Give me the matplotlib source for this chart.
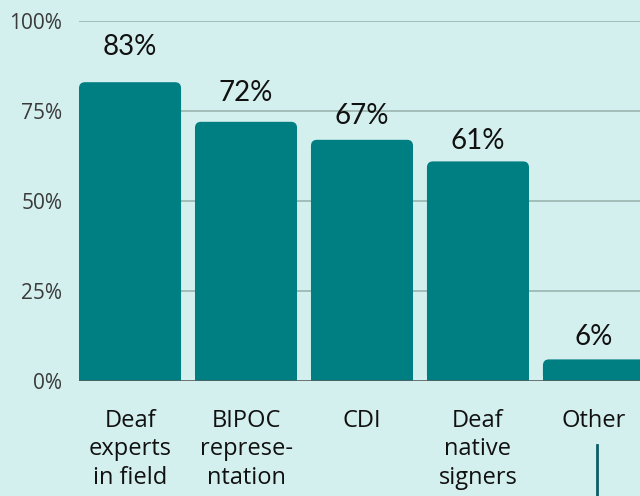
import matplotlib.pyplot as plt
from matplotlib.patches import FancyBboxPatch, Rectangle
from matplotlib.lines import Line2D

categories = ["Deaf\nexperts\nin field", "BIPOC\nreprese-\nntation", "CDI", "Deaf\nnative\nsigners", "Other"]
values = [83, 72, 67, 61, 6]
value_labels = ["83%", "72%", "67%", "61%", "6%"]
yticks = [0, 25, 50, 75, 100]
ytick_labels = ["0%", "25%", "50%", "75%", "100%"]

bg = "#d4f0ee"
bar_color = "#007f83"
label_gap = [22, 16, 11, 7, 9]  # pixels between bar top and its label

fig = plt.figure(figsize=(6.4, 4.96), dpi=100, facecolor=bg)
ax = fig.add_axes([79 / 640, 115 / 496, 561 / 640, 360 / 496])
ax.set_facecolor(bg)

width = 0.88
ax.set_xlim(-width / 2, 4.397)
ax.set_ylim(0, 100)

# gridlines
for t in yticks[1:]:
    ax.axhline(t, color="#9ab3ae", lw=1.2, zorder=0)
ax.axhline(0, color="#555f5e", lw=1.2, zorder=3)

# rounded-top bars
r = 0.052
aspect = (561 / (4.397 + width / 2)) / 3.6
bars = ax.bar(range(len(values)), values, width=width, color="none")
for b, v in zip(bars, values):
    x0 = b.get_x()
    ax.add_patch(FancyBboxPatch((x0, 0), width, v,
                                boxstyle=f"round,pad=0,rounding_size={r}",
                                mutation_aspect=aspect,
                                fc=bar_color, ec="none", zorder=2))
    ax.add_patch(Rectangle((x0, 0), width, v / 2, fc=bar_color, ec="none", zorder=2))

for i, (v, lab) in enumerate(zip(values, value_labels)):
    ax.annotate(lab, (i, v), xytext=(0, label_gap[i] * 0.72), textcoords="offset points",
                ha="center", va="bottom", fontsize=20, family="Lato", color="#111111",
                annotation_clip=False)

ax.set_yticks(yticks)
ax.set_yticklabels(ytick_labels, fontsize=15, family="Open Sans", color="#3a3a3a")
ax.set_xticks(range(len(categories)))
ax.set_xticklabels(categories, fontsize=17, family="Open Sans", color="#111111", linespacing=1.25)
ax.tick_params(axis="y", length=0, pad=12)
ax.tick_params(axis="x", length=0, pad=20)
for s in ax.spines.values():
    s.set_visible(False)

fig.add_artist(Line2D([597 / 640, 597 / 640], [0, 51 / 496], color="#0d5c66", lw=2))

fig.savefig("out.png", dpi=100, facecolor=bg)
